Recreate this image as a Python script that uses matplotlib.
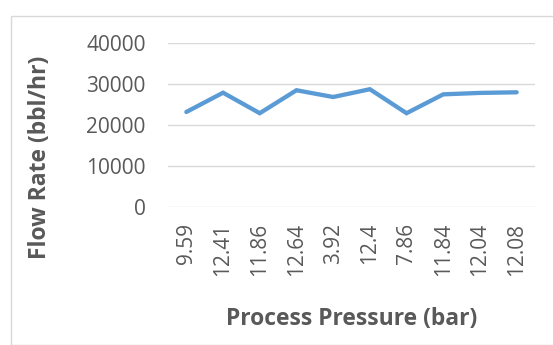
import matplotlib
matplotlib.use('Agg')
import matplotlib.pyplot as plt
from matplotlib.patches import Rectangle

# pressure readings (category labels) and the measured flow rates
pressure = ['9.59', '12.41', '11.86', '12.64', '3.92', '12.4', '7.86', '11.84', '12.04', '12.08']
flow_rate = [23250, 27950, 22950, 28550, 26900, 28800, 22950, 27550, 27900, 28050]
yticks = [0, 10000, 20000, 30000, 40000]

grey = '#595959'
plt.rcParams['font.family'] = ['Open Sans', 'DejaVu Sans']

fig = plt.figure(figsize=(5.53, 3.45), dpi=100)
W, H = 553.0, 345.0

# light frame round the chart area
fig.patches.append(Rectangle((10.5/W, 0), 1, 1 - 15.5/H, transform=fig.transFigure,
                             fill=False, edgecolor='#d9d9d9', linewidth=1.0))

ax = fig.add_axes([168/W, 1 - 207.3/H, (535-168)/W, (207.3-43.3)/H])
x = list(range(len(pressure)))
ax.plot(x, flow_rate, color='#5b9bd5', linewidth=3.1, solid_capstyle='round',
        solid_joinstyle='miter', zorder=3)

ax.set_xlim(-0.5, len(pressure) - 0.5)
ax.set_ylim(0, 40000)
ax.set_yticks(yticks)
ax.set_yticklabels([str(v) for v in yticks])
ax.set_xticks(x)
ax.set_xticklabels(pressure, rotation=90, va='top', ha='center')

ax.grid(axis='y', color='#d9d9d9', linewidth=1.0)
ax.set_axisbelow(True)
for s in ax.spines.values():
    s.set_visible(False)
ax.tick_params(axis='both', length=0, colors=grey, labelsize=15)
ax.tick_params(axis='y', pad=16)
ax.tick_params(axis='x', pad=11)

fig.text(40.5/W, 1 - 157/H, 'Flow Rate (bbl/hr)', rotation=90, ha='center', va='center',
         fontsize=16.5, fontweight='bold', color=grey)
fig.text(351.5/W, 1 - 319/H, 'Process Pressure (bar)', ha='center', va='center',
         fontsize=16.5, fontweight='bold', color=grey)

fig.savefig('out.png', dpi=100)
